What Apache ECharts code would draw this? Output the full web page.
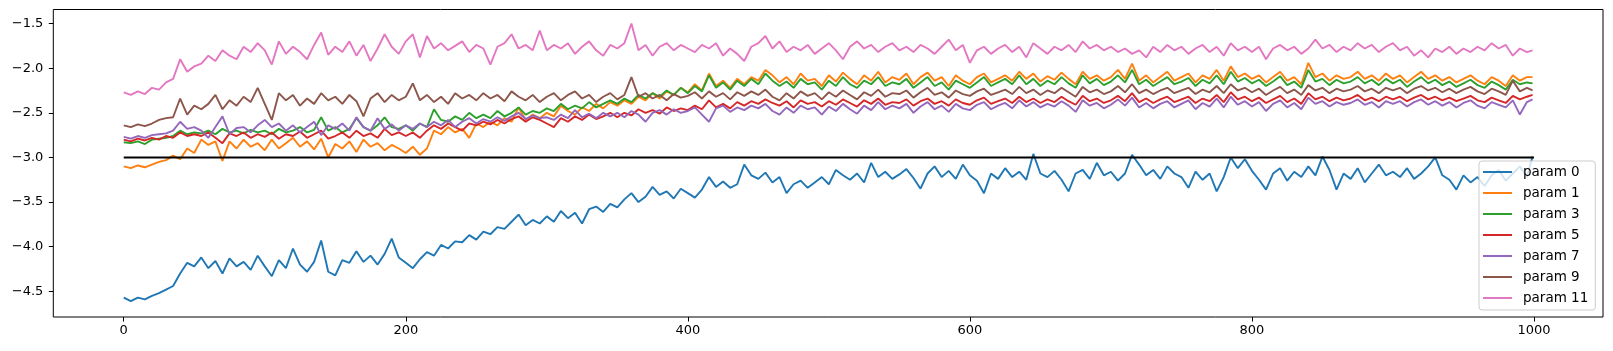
<!DOCTYPE html>
<html>
<head>
<meta charset="utf-8">
<script src="https://cdn.jsdelivr.net/npm/echarts@6/dist/echarts.min.js"></script>
<style>html,body{margin:0;padding:0;background:#fff;}#chart{width:1613px;height:351px;}</style>
</head>
<body>
<div id="chart"></div>
<script>
// Sample positions: every 5 steps, plus the final step 999
const STEP = 5;
const xIndex = Array.from({length: 200}, (_, i) => i * STEP).concat([999]);

const seriesNames = ['param 0', 'param 1', 'param 3', 'param 5', 'param 7', 'param 9', 'param 11'];
const seriesColors = ['#1f77b4', '#ff7f0e', '#2ca02c', '#d62728', '#9467bd', '#8c564b', '#e377c2'];
const xTicks = [0, 200, 400, 600, 800, 1000];
const yTicks = [-4.5, -4.0, -3.5, -3.0, -2.5, -2.0, -1.5];
const refLineX = [0, 1000];
const refLineY = [-3, -3];

const param0 = [
-4.57,-4.61,-4.57,-4.59,-4.55,-4.52,-4.48,-4.44,-4.30,-4.18,
-4.22,-4.12,-4.24,-4.16,-4.30,-4.13,-4.22,-4.17,-4.26,-4.10,
-4.22,-4.33,-4.15,-4.24,-4.02,-4.20,-4.28,-4.17,-3.93,-4.28,
-4.32,-4.15,-4.18,-4.05,-4.17,-4.10,-4.20,-4.08,-3.91,-4.12,
-4.18,-4.24,-4.14,-4.06,-4.10,-3.98,-4.02,-3.94,-3.95,-3.87,
-3.92,-3.83,-3.86,-3.78,-3.80,-3.72,-3.64,-3.76,-3.70,-3.74,
-3.66,-3.72,-3.60,-3.68,-3.62,-3.74,-3.58,-3.55,-3.61,-3.52,
-3.56,-3.47,-3.40,-3.50,-3.44,-3.33,-3.42,-3.38,-3.46,-3.35,
-3.40,-3.45,-3.36,-3.22,-3.33,-3.27,-3.34,-3.30,-3.08,-3.20,
-3.24,-3.17,-3.28,-3.22,-3.40,-3.30,-3.26,-3.34,-3.28,-3.22,
-3.30,-3.14,-3.20,-3.25,-3.18,-3.28,-3.06,-3.22,-3.16,-3.24,
-3.19,-3.13,-3.23,-3.35,-3.18,-3.10,-3.22,-3.15,-3.24,-3.08,
-3.20,-3.26,-3.40,-3.18,-3.24,-3.12,-3.22,-3.16,-3.25,-2.96,
-3.18,-3.22,-3.15,-3.25,-3.38,-3.18,-3.14,-3.24,-3.06,-3.20,
-3.16,-3.26,-3.18,-2.97,-3.08,-3.20,-3.14,-3.24,-3.10,-3.18,
-3.22,-3.34,-3.16,-3.25,-3.18,-3.38,-3.22,-3.00,-3.12,-3.02,
-3.15,-3.25,-3.36,-3.18,-3.12,-3.26,-3.16,-3.22,-3.10,-3.20,
-2.99,-3.14,-3.36,-3.18,-3.24,-3.12,-3.28,-3.18,-3.08,-3.20,
-3.16,-3.22,-3.12,-3.24,-3.18,-3.10,-3.00,-3.20,-3.25,-3.36,
-3.20,-3.28,-3.22,-3.32,-3.20,-3.14,-3.26,-3.18,-3.10,-3.22,
-2.99];

const param1 = [
-3.10,-3.12,-3.09,-3.11,-3.08,-3.05,-3.03,-2.98,-3.02,-2.90,
-2.95,-2.80,-2.86,-2.82,-3.04,-2.82,-2.90,-2.80,-2.88,-2.84,
-2.92,-2.80,-2.90,-2.84,-2.78,-2.88,-2.82,-2.91,-2.79,-3.00,
-2.85,-2.90,-2.82,-2.94,-2.80,-2.88,-2.84,-2.92,-2.86,-2.90,
-2.95,-2.88,-2.97,-2.90,-2.70,-2.74,-2.66,-2.72,-2.68,-2.78,
-2.62,-2.66,-2.60,-2.64,-2.56,-2.60,-2.44,-2.58,-2.52,-2.56,
-2.50,-2.54,-2.42,-2.48,-2.52,-2.44,-2.48,-2.40,-2.45,-2.38,
-2.42,-2.36,-2.40,-2.32,-2.36,-2.28,-2.34,-2.26,-2.30,-2.22,
-2.27,-2.18,-2.25,-2.06,-2.20,-2.14,-2.22,-2.12,-2.18,-2.10,
-2.14,-2.02,-2.08,-2.16,-2.10,-2.18,-2.06,-2.14,-2.12,-2.20,
-2.08,-2.15,-2.05,-2.12,-2.18,-2.08,-2.14,-2.04,-2.16,-2.10,
-2.13,-2.06,-2.18,-2.10,-2.05,-2.14,-2.10,-2.20,-2.08,-2.14,
-2.18,-2.10,-2.06,-2.16,-2.12,-2.08,-2.14,-2.04,-2.12,-2.06,
-2.15,-2.09,-2.13,-2.05,-2.12,-2.18,-2.04,-2.12,-2.08,-2.14,
-2.10,-2.02,-2.12,-1.95,-2.14,-2.08,-2.16,-2.10,-2.04,-2.14,
-2.10,-2.06,-2.16,-2.08,-2.12,-2.02,-2.14,-1.98,-2.10,-2.06,
-2.12,-2.08,-2.16,-2.10,-2.04,-2.14,-2.10,-2.18,-1.94,-2.10,
-2.06,-2.14,-2.08,-2.12,-2.10,-2.04,-2.12,-2.08,-2.14,-2.06,
-2.12,-2.08,-2.16,-2.10,-2.04,-2.12,-2.08,-2.14,-2.10,-2.16,
-2.12,-2.08,-2.14,-2.18,-2.10,-2.14,-2.20,-2.08,-2.14,-2.10,
-2.10];

const param3 = [
-2.83,-2.84,-2.82,-2.85,-2.80,-2.79,-2.78,-2.76,-2.70,-2.74,
-2.72,-2.73,-2.70,-2.74,-2.68,-2.72,-2.70,-2.73,-2.69,-2.72,
-2.70,-2.74,-2.68,-2.72,-2.70,-2.66,-2.72,-2.69,-2.55,-2.70,
-2.66,-2.72,-2.68,-2.56,-2.66,-2.70,-2.64,-2.55,-2.66,-2.68,
-2.64,-2.70,-2.62,-2.66,-2.46,-2.58,-2.60,-2.54,-2.58,-2.50,
-2.56,-2.52,-2.56,-2.48,-2.54,-2.50,-2.44,-2.52,-2.48,-2.50,
-2.45,-2.48,-2.40,-2.46,-2.42,-2.45,-2.38,-2.44,-2.40,-2.36,
-2.40,-2.34,-2.38,-2.30,-2.34,-2.28,-2.32,-2.25,-2.30,-2.22,
-2.28,-2.20,-2.26,-2.08,-2.22,-2.16,-2.24,-2.14,-2.20,-2.12,
-2.18,-2.06,-2.14,-2.20,-2.15,-2.22,-2.12,-2.18,-2.16,-2.24,
-2.14,-2.20,-2.10,-2.18,-2.22,-2.14,-2.18,-2.10,-2.20,-2.16,
-2.18,-2.12,-2.22,-2.16,-2.10,-2.20,-2.16,-2.24,-2.14,-2.18,
-2.22,-2.16,-2.10,-2.20,-2.16,-2.12,-2.18,-2.08,-2.18,-2.12,
-2.20,-2.14,-2.18,-2.10,-2.17,-2.22,-2.08,-2.17,-2.12,-2.19,
-2.15,-2.08,-2.16,-2.02,-2.18,-2.13,-2.20,-2.15,-2.10,-2.18,
-2.15,-2.11,-2.20,-2.13,-2.17,-2.08,-2.18,-2.04,-2.15,-2.11,
-2.17,-2.13,-2.20,-2.15,-2.09,-2.19,-2.15,-2.22,-2.02,-2.15,
-2.12,-2.19,-2.13,-2.17,-2.15,-2.10,-2.17,-2.13,-2.19,-2.12,
-2.17,-2.13,-2.21,-2.15,-2.10,-2.17,-2.13,-2.19,-2.15,-2.21,
-2.17,-2.13,-2.19,-2.22,-2.15,-2.19,-2.24,-2.13,-2.18,-2.16,
-2.17];

const param5 = [
-2.80,-2.82,-2.79,-2.81,-2.78,-2.80,-2.76,-2.78,-2.72,-2.76,
-2.74,-2.76,-2.72,-2.78,-2.84,-2.73,-2.76,-2.72,-2.78,-2.74,
-2.77,-2.72,-2.79,-2.74,-2.76,-2.71,-2.78,-2.74,-2.70,-2.79,
-2.76,-2.72,-2.78,-2.70,-2.76,-2.73,-2.78,-2.68,-2.75,-2.72,
-2.76,-2.72,-2.78,-2.70,-2.64,-2.68,-2.62,-2.66,-2.70,-2.62,
-2.64,-2.60,-2.63,-2.58,-2.62,-2.57,-2.54,-2.60,-2.55,-2.58,
-2.62,-2.66,-2.56,-2.60,-2.54,-2.58,-2.52,-2.57,-2.54,-2.50,
-2.55,-2.50,-2.53,-2.46,-2.50,-2.47,-2.51,-2.44,-2.48,-2.45,
-2.47,-2.42,-2.46,-2.36,-2.44,-2.40,-2.45,-2.38,-2.42,-2.37,
-2.40,-2.35,-2.39,-2.42,-2.37,-2.44,-2.36,-2.40,-2.38,-2.43,
-2.37,-2.41,-2.35,-2.39,-2.43,-2.36,-2.40,-2.34,-2.41,-2.38,
-2.39,-2.35,-2.42,-2.37,-2.34,-2.40,-2.37,-2.42,-2.35,-2.39,
-2.41,-2.36,-2.33,-2.40,-2.37,-2.34,-2.39,-2.32,-2.38,-2.34,
-2.39,-2.35,-2.38,-2.32,-2.37,-2.41,-2.31,-2.37,-2.34,-2.39,
-2.36,-2.31,-2.37,-2.28,-2.38,-2.34,-2.39,-2.35,-2.32,-2.38,
-2.35,-2.32,-2.39,-2.34,-2.37,-2.30,-2.38,-2.27,-2.35,-2.32,
-2.37,-2.33,-2.39,-2.35,-2.31,-2.38,-2.34,-2.40,-2.28,-2.35,
-2.32,-2.37,-2.33,-2.36,-2.34,-2.30,-2.36,-2.33,-2.37,-2.32,
-2.35,-2.32,-2.37,-2.33,-2.30,-2.35,-2.32,-2.36,-2.33,-2.37,
-2.34,-2.31,-2.36,-2.38,-2.33,-2.36,-2.39,-2.31,-2.35,-2.32,
-2.30];

const param7 = [
-2.77,-2.79,-2.76,-2.78,-2.75,-2.74,-2.73,-2.70,-2.60,-2.68,
-2.66,-2.70,-2.78,-2.66,-2.54,-2.74,-2.67,-2.66,-2.72,-2.64,
-2.58,-2.66,-2.62,-2.70,-2.64,-2.72,-2.66,-2.60,-2.75,-2.64,
-2.68,-2.62,-2.70,-2.55,-2.66,-2.70,-2.56,-2.68,-2.63,-2.70,
-2.64,-2.68,-2.62,-2.66,-2.60,-2.64,-2.58,-2.66,-2.60,-2.56,
-2.62,-2.57,-2.60,-2.55,-2.59,-2.54,-2.50,-2.57,-2.53,-2.56,
-2.55,-2.58,-2.52,-2.56,-2.47,-2.55,-2.51,-2.56,-2.50,-2.54,
-2.50,-2.55,-2.48,-2.52,-2.60,-2.50,-2.47,-2.52,-2.46,-2.50,
-2.48,-2.44,-2.52,-2.60,-2.45,-2.42,-2.49,-2.44,-2.47,-2.42,
-2.45,-2.40,-2.48,-2.52,-2.44,-2.50,-2.42,-2.46,-2.44,-2.52,
-2.43,-2.48,-2.40,-2.46,-2.51,-2.42,-2.47,-2.38,-2.46,-2.42,
-2.45,-2.40,-2.50,-2.43,-2.38,-2.46,-2.42,-2.49,-2.40,-2.45,
-2.47,-2.41,-2.38,-2.46,-2.42,-2.39,-2.45,-2.36,-2.43,-2.38,
-2.44,-2.40,-2.43,-2.37,-2.42,-2.49,-2.36,-2.42,-2.39,-2.45,
-2.41,-2.35,-2.42,-2.33,-2.44,-2.39,-2.45,-2.40,-2.37,-2.44,
-2.40,-2.36,-2.46,-2.39,-2.43,-2.34,-2.44,-2.32,-2.41,-2.37,
-2.43,-2.38,-2.48,-2.40,-2.36,-2.44,-2.39,-2.46,-2.33,-2.40,
-2.37,-2.43,-2.38,-2.41,-2.39,-2.35,-2.41,-2.38,-2.44,-2.37,
-2.40,-2.37,-2.43,-2.38,-2.35,-2.41,-2.37,-2.42,-2.38,-2.44,
-2.39,-2.36,-2.42,-2.45,-2.38,-2.41,-2.44,-2.36,-2.52,-2.38,
-2.35];

const param9 = [
-2.64,-2.66,-2.63,-2.65,-2.62,-2.58,-2.56,-2.55,-2.34,-2.52,
-2.42,-2.46,-2.40,-2.30,-2.46,-2.36,-2.42,-2.32,-2.38,-2.22,
-2.40,-2.58,-2.28,-2.36,-2.30,-2.42,-2.34,-2.40,-2.28,-2.36,
-2.32,-2.40,-2.30,-2.37,-2.54,-2.34,-2.28,-2.38,-2.30,-2.36,
-2.32,-2.17,-2.36,-2.30,-2.38,-2.32,-2.40,-2.28,-2.34,-2.30,
-2.36,-2.28,-2.34,-2.30,-2.37,-2.26,-2.32,-2.36,-2.30,-2.38,
-2.32,-2.28,-2.36,-2.30,-2.26,-2.34,-2.30,-2.38,-2.32,-2.28,
-2.35,-2.30,-2.10,-2.32,-2.28,-2.34,-2.30,-2.36,-2.29,-2.33,
-2.31,-2.27,-2.34,-2.26,-2.32,-2.28,-2.35,-2.27,-2.31,-2.26,
-2.30,-2.24,-2.32,-2.36,-2.28,-2.34,-2.26,-2.31,-2.28,-2.35,
-2.27,-2.32,-2.25,-2.30,-2.35,-2.27,-2.31,-2.24,-2.32,-2.28,
-2.29,-2.25,-2.33,-2.27,-2.22,-2.30,-2.27,-2.33,-2.25,-2.29,
-2.31,-2.26,-2.23,-2.30,-2.27,-2.24,-2.29,-2.21,-2.28,-2.24,
-2.30,-2.25,-2.28,-2.22,-2.27,-2.32,-2.21,-2.27,-2.24,-2.29,
-2.26,-2.20,-2.27,-2.18,-2.28,-2.24,-2.29,-2.25,-2.22,-2.28,
-2.25,-2.22,-2.29,-2.24,-2.27,-2.20,-2.28,-2.18,-2.25,-2.22,
-2.27,-2.23,-2.30,-2.25,-2.21,-2.28,-2.24,-2.30,-2.19,-2.25,
-2.22,-2.28,-2.23,-2.26,-2.24,-2.20,-2.26,-2.23,-2.28,-2.22,
-2.25,-2.22,-2.28,-2.23,-2.20,-2.25,-2.22,-2.27,-2.23,-2.28,
-2.24,-2.21,-2.26,-2.29,-2.23,-2.26,-2.30,-2.14,-2.26,-2.22,
-2.25];

const param11 = [
-2.27,-2.30,-2.26,-2.29,-2.22,-2.24,-2.16,-2.12,-1.90,-2.04,
-1.98,-1.95,-1.86,-1.92,-1.80,-1.86,-1.90,-1.76,-1.82,-1.72,
-1.80,-1.96,-1.70,-1.84,-1.76,-1.82,-1.90,-1.74,-1.60,-1.85,
-1.76,-1.82,-1.70,-1.86,-1.74,-1.92,-1.78,-1.62,-1.76,-1.84,
-1.70,-1.62,-1.88,-1.64,-1.78,-1.72,-1.80,-1.75,-1.70,-1.82,
-1.74,-1.78,-1.96,-1.76,-1.72,-1.62,-1.78,-1.74,-1.80,-1.58,
-1.80,-1.74,-1.78,-1.72,-1.84,-1.76,-1.70,-1.80,-1.86,-1.74,
-1.78,-1.72,-1.50,-1.80,-1.74,-1.86,-1.76,-1.72,-1.80,-1.74,
-1.78,-1.82,-1.74,-1.78,-1.72,-1.86,-1.78,-1.84,-1.92,-1.76,
-1.72,-1.64,-1.78,-1.70,-1.82,-1.76,-1.80,-1.74,-1.84,-1.78,
-1.72,-1.80,-1.90,-1.76,-1.70,-1.78,-1.74,-1.82,-1.76,-1.72,
-1.80,-1.76,-1.82,-1.74,-1.78,-1.84,-1.76,-1.68,-1.80,-1.74,
-1.94,-1.80,-1.76,-1.84,-1.78,-1.74,-1.82,-1.76,-1.88,-1.72,
-1.78,-1.84,-1.76,-1.80,-1.74,-1.82,-1.70,-1.78,-1.74,-1.80,
-1.76,-1.82,-1.78,-1.84,-1.80,-1.88,-1.76,-1.82,-1.74,-1.80,
-1.76,-1.84,-1.78,-1.74,-1.82,-1.76,-1.86,-1.72,-1.80,-1.76,
-1.82,-1.76,-1.90,-1.78,-1.74,-1.80,-1.76,-1.84,-1.78,-1.68,
-1.78,-1.74,-1.82,-1.76,-1.80,-1.72,-1.78,-1.74,-1.82,-1.76,
-1.72,-1.80,-1.76,-1.86,-1.80,-1.88,-1.78,-1.82,-1.76,-1.84,
-1.78,-1.82,-1.76,-1.80,-1.72,-1.78,-1.74,-1.86,-1.78,-1.82,
-1.80];

const seriesValues = [param0, param1, param3, param5, param7, param9, param11];

const FONT = 'DejaVu Sans';
const fmtY = v => (v < 0 ? '\u2212' : '') + Math.abs(v).toFixed(1);
const fmtX = v => String(Math.round(v));

const series = seriesValues.map((vals, k) => ({
  name: seriesNames[k],
  type: 'line',
  data: vals.map((v, i) => [xIndex[i], v]),
  symbol: 'none',
  showSymbol: false,
  sampling: null,
  lineStyle: { color: seriesColors[k], width: 1.9 },
  itemStyle: { color: seriesColors[k] },
  emphasis: { disabled: true },
  z: 2 + k
}));
series.push({
  name: '_ref',
  type: 'line',
  data: refLineX.map((x, i) => [x, refLineY[i]]),
  symbol: 'none',
  lineStyle: { color: '#000000', width: 1.9 },
  itemStyle: { color: '#000000' },
  emphasis: { disabled: true },
  z: 20
});

const chart = echarts.init(document.getElementById('chart'), null, { renderer: 'canvas' });
chart.setOption({
  animation: false,
  backgroundColor: '#ffffff',
  textStyle: { fontFamily: FONT },
  grid: {
    left: 53.3, right: 10, top: 9.5, bottom: 34,
    show: true, borderColor: '#000000', borderWidth: 1, backgroundColor: 'transparent'
  },
  xAxis: {
    type: 'value',
    min: -49.95, max: 1048.95,
    splitLine: { show: false },
    axisLine: { show: false, onZero: false },
    axisTick: { show: true, length: 4.5, inside: false, customValues: xTicks, lineStyle: { color: '#000', width: 1 } },
    axisLabel: { customValues: xTicks, color: '#000', fontSize: 13, fontFamily: FONT, margin: 7, formatter: fmtX }
  },
  yAxis: {
    type: 'value',
    min: -4.787, max: -1.343,
    splitLine: { show: false },
    axisLine: { show: false, onZero: false },
    axisTick: { show: true, length: 4.5, inside: false, customValues: yTicks, lineStyle: { color: '#000', width: 1 } },
    axisLabel: { customValues: yTicks, color: '#000', fontSize: 13, fontFamily: FONT, margin: 10, formatter: fmtY }
  },
  legend: {
    data: seriesNames,
    orient: 'vertical',
    left: 1479, top: 161,
    padding: [4, 7, 5, 4],
    icon: 'rect',
    itemWidth: 29, itemHeight: 2, itemGap: 7,
    backgroundColor: 'rgba(255,255,255,0.8)',
    borderColor: '#cccccc', borderWidth: 1, borderRadius: 3,
    textStyle: { color: '#000', fontSize: 13.5, fontFamily: FONT, lineHeight: 14, height: 14, padding: [0, 0, 0, 6] },
    z: 50
  },
  series: series
});
</script>
</body>
</html>
